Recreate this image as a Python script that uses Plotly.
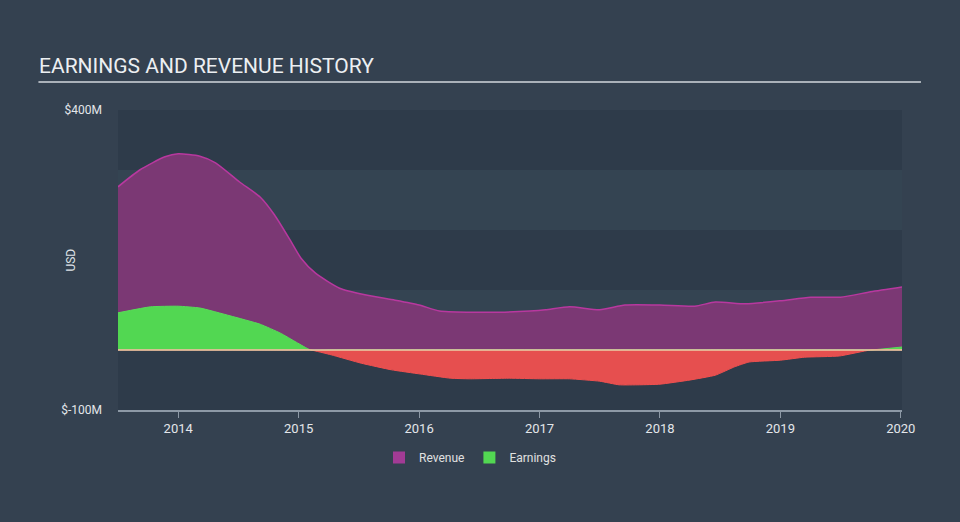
import plotly.graph_objects as go

# Data (USD millions), x in fractional years
rev_x = [2013.50, 2013.68, 2013.89, 2014.00, 2014.18, 2014.31, 2014.51, 2014.68, 2014.80, 2014.93,
         2015.02, 2015.14, 2015.34, 2015.55, 2015.80, 2016.00, 2016.17, 2016.42, 2016.67, 2016.92,
         2017.05, 2017.25, 2017.50, 2017.71, 2018.00, 2018.29, 2018.46, 2018.71, 2019.00, 2019.25,
         2019.50, 2019.75, 2020.01]
rev_y = [272, 300, 322, 327, 323, 312, 280, 255, 225, 183,
         153, 128, 103, 92, 83, 75, 65, 63, 63, 65,
         67, 72, 67, 75, 75, 73, 80, 77, 82, 88,
         88, 97, 105]

earn_x = [2013.50, 2013.77, 2014.00, 2014.18, 2014.43, 2014.68, 2014.85, 2014.98, 2015.10, 2015.27,
          2015.52, 2015.77, 2016.01, 2016.26, 2016.42, 2016.75, 2017.00, 2017.25, 2017.50, 2017.66,
          2017.83, 2018.00, 2018.25, 2018.46, 2018.62, 2018.74, 2019.00, 2019.20, 2019.49, 2019.75,
          2020.01]
earn_y = [62, 72, 73, 70, 57, 43, 28, 13, 0, -8,
          -22, -33, -40, -47, -48, -47, -48, -48, -52, -58,
          -58, -57, -50, -42, -28, -20, -17, -12, -10, 0,
          5]

year_ticks = [2014, 2015, 2016, 2017, 2018, 2019, 2020]
y_ticks = [400, -100]
y_tick_labels = ["$400M", "$-100M"]
bands = [(300, 400), (100, 200), (-100, 0)]

earn_pos = [max(v, 0) for v in earn_y]
earn_neg = [min(v, 0) for v in earn_y]

fig = go.Figure()
fig.add_trace(go.Scatter(x=rev_x, y=rev_y, name="Revenue", mode="lines", showlegend=False,
                         line=dict(color="#b8389f", width=1.5, shape="spline", smoothing=0.6),
                         fill="tozeroy", fillcolor="#7b3874"))
fig.add_trace(go.Scatter(x=earn_x, y=earn_pos, name="Earnings", mode="lines", showlegend=False,
                         line=dict(color="#58dc58", width=1, shape="spline", smoothing=0.4),
                         fill="tozeroy", fillcolor="#52d752"))
fig.add_trace(go.Scatter(x=earn_x, y=earn_neg, name="Earnings neg", mode="lines", showlegend=False,
                         line=dict(color="#f0504f", width=1, shape="spline", smoothing=0.4),
                         fill="tozeroy", fillcolor="#e64f4f"))
# legend entries with square swatches
fig.add_trace(go.Scatter(x=[None], y=[None], name="Revenue", mode="markers",
                         marker=dict(symbol="square", size=14, color="#a23b95")))
fig.add_trace(go.Scatter(x=[None], y=[None], name="Earnings", mode="markers",
                         marker=dict(symbol="square", size=14, color="#52d752")))

shapes = []
for lo, hi in bands:
    shapes.append(dict(type="rect", xref="paper", yref="y", x0=0, x1=1, y0=lo, y1=hi,
                       fillcolor="#2e3b4a", line=dict(width=0), layer="below"))
shapes.append(dict(type="line", xref="paper", yref="y", x0=0, x1=1, y0=0, y1=0,
                   line=dict(color="#e8d0a8", width=1.5)))
shapes.append(dict(type="line", xref="paper", yref="paper", x0=-0.1015, x1=1.0242,
                   y0=1.093, y1=1.093, line=dict(color="#aab1b9", width=2)))
fig.update_layout(shapes=shapes)

fig.update_layout(
    width=960, height=522,
    margin=dict(l=118, r=58, t=110, b=112),
    paper_bgcolor="#344150",
    plot_bgcolor="#344452",
    font=dict(family="Roboto", color="#dfe3e8", size=12),
    showlegend=True,
    legend=dict(orientation="h", x=0.449, xanchor="center", y=-0.11, yanchor="top",
                font=dict(size=12, color="#e0e0e0"), bgcolor="rgba(0,0,0,0)",
                traceorder="normal", itemsizing="constant"),
    annotations=[
        dict(text="EARNINGS AND REVENUE HISTORY", xref="paper", yref="paper",
             x=-0.1035, y=1.1, xanchor="left", yanchor="bottom", showarrow=False,
             font=dict(size=21, color="#eceff2", family="Roboto")),
        dict(text="USD", xref="paper", yref="paper", x=-0.072, y=0.5, textangle=-90,
             showarrow=False, font=dict(size=12, color="#dfe3e8")),
    ],
)
fig.update_xaxes(range=[2013.5, 2020.01], tickvals=year_ticks, ticktext=[str(t) for t in year_ticks],
                 showgrid=False, zeroline=False, showline=True, linecolor="#8d99a6", linewidth=1.5,
                 ticks="outside", ticklen=6, tickcolor="#8d99a6", tickfont=dict(size=13, color="#e3e6ea"))
fig.update_yaxes(range=[-100, 400], tickvals=y_ticks, ticktext=y_tick_labels, showgrid=False,
                 zeroline=False, showline=False, ticks="", ticklabelstandoff=15,
                 tickfont=dict(size=12, color="#e3e6ea"))

fig.write_html("out.html")
